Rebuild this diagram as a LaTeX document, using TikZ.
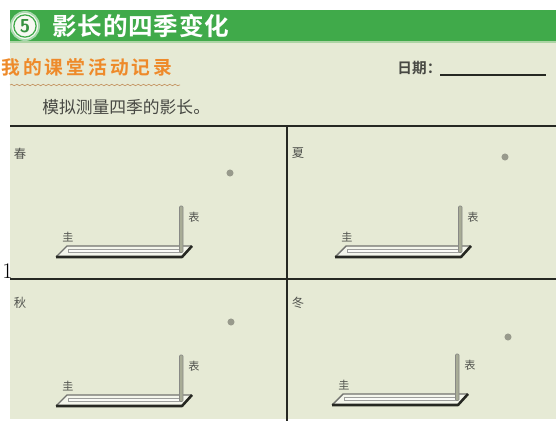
\documentclass[tikz,border=0pt]{standalone}
\usepackage{fontspec}
\newfontfamily\cjk{Noto Sans CJK SC}[BoldFont=Noto Sans CJK SC Bold]
\usetikzlibrary{decorations.pathmorphing}

\definecolor{bargreen}{RGB}{64,170,74}
\definecolor{paper}{RGB}{230,234,213}
\definecolor{recorange}{RGB}{238,138,42}
\definecolor{wavy}{RGB}{196,150,100}
\definecolor{sundot}{RGB}{152,154,140}
\definecolor{polegray}{RGB}{168,172,150}
\definecolor{ink}{RGB}{38,40,34}

\tikzset{
	season/.style={font=\cjk\fontsize{10.5}{11}\selectfont, text=ink!80, inner sep=0pt},
	part/.style={font=\cjk\fontsize{9.5}{10}\selectfont, text=ink!80, inner sep=0pt},
	sun/.style={circle, fill=sundot, inner sep=0pt, minimum size=6pt},
	badge/.style={circle, fill=white!70!paper, draw=bargreen!45!white, line width=1.6pt,
		minimum size=24pt, inner sep=0pt, text=bargreen!85!black,
		font=\sffamily\bfseries\fontsize{16}{16}\selectfont},
	gridline/.style={ink, line width=1.6pt},
}

\begin{document}
\begin{tikzpicture}[x=0.03cm,y=-0.03cm,thick]
	\useasboundingbox (0,0) rectangle (556,421);
	% page and heading bar
	\fill[paper] (10,42) rectangle (556,419);
	\fill[bargreen] (10,10) rectangle (556,42);
	\draw[bargreen!35!paper, line width=1pt] (10,42)--(556,42);
	\node[badge] (num) at (25,26) {5};
	\draw[bargreen, line width=1.1pt] (num.center) circle (9.5pt);
	\node[anchor=west, text=white, inner sep=0pt,
		font=\cjk\bfseries\fontsize{21}{21}\selectfont\addfontfeature{LetterSpace=3}]
		(title) at (52,26) {影长的四季变化};
	% record heading
	\node[anchor=west, text=recorange, inner sep=0pt,
		font=\cjk\bfseries\fontsize{16}{16}\selectfont\addfontfeature{LetterSpace=16}]
		(record) at (1,67) {我的课堂活动记录};
	\draw[wavy, line width=0.6pt, decorate,
		decoration={snake, amplitude=0.6pt, segment length=4.5pt}] (10,85)--(180,85);
	\node[anchor=west, text=ink!85, inner sep=0pt,
		font=\cjk\bfseries\fontsize{12.5}{13}\selectfont] (date) at (397,68) {日期：};
	\draw[ink, line width=1.5pt] (440,75)--(546,75);
	\node[anchor=west, text=ink!85, inner sep=0pt,
		font=\cjk\fontsize{14.3}{15}\selectfont] (task) at (42,107) {模拟测量四季的影长。};
	% table lines
	\draw[gridline] (10,126)--(556,126);
	\draw[gridline] (10,279)--(556,279);
	\draw[gridline] (287,126)--(287,421);
	\node[anchor=base, inner sep=0pt, font=\fontsize{19}{19}\selectfont] (one) at (7.5,278) {1};
	% one gnomon per season
	\foreach \dx/\dy/\sname/\lx/\ly/\sx/\sy [count=\i] in
		{0/0/春/20/154/230/173, 279/0/夏/298/153/505/157,
		 0/149/秋/20/303/231/322, 276/148/冬/298/303/508/337}
	{
		\node[season] (season\i) at (\lx,\ly) {\sname};
		\node[sun] (sun\i) at (\sx,\sy) {};
		\begin{scope}[shift={(\dx,\dy)}]
			\fill[white!55!paper] (67,246)--(192,246)--(182,257)--(56,257)--cycle;
			\draw[ink!65, line width=1.2pt] (56,257)--(67,246)--(192,246);
			\draw[ink, line width=2.2pt, line join=bevel] (56,257)--(182,257)--(192,246);
			\draw[ink!45, line width=0.5pt, fill=white!80!paper] (68,249.5) rectangle (181,252.5);
			\draw[ink!55, line width=0.5pt, fill=polegray, rounded corners=0.8pt]
				(179.5,252.5) rectangle (183,206);
			\node[part] (biao\i) at (194,217) {表};
			\node[part] (gui\i) at (68,237) {圭};
		\end{scope}
	}
\end{tikzpicture}
\end{document}
